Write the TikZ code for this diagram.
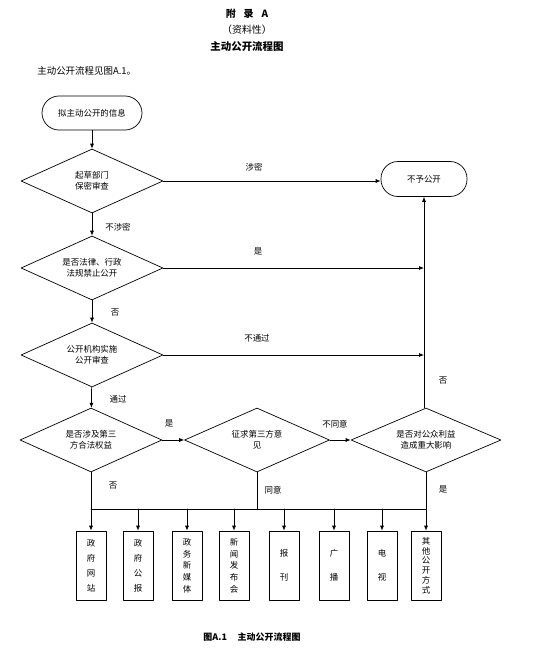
\documentclass[tikz,border=0pt]{standalone}
\usepackage{fontspec}
\setmainfont{Noto Sans CJK SC}
\usetikzlibrary{shapes.geometric,arrows.meta}

\tikzset{
  decision/.style={draw,diamond,aspect=2.2,minimum width=142bp,minimum height=64bp,
    inner sep=0pt,align=center,font=\fontsize{8.5}{11}\selectfont},
  terminal/.style={draw,rectangle,rounded corners=17bp,minimum height=34bp,
    align=center,font=\fontsize{8.5}{11}\selectfont},
  channel/.style={draw,rectangle,minimum width=30bp,minimum height=69bp,
    inner sep=0pt,align=center},
  flowlabel/.style={font=\fontsize{8.5}{10}\selectfont,inner sep=1pt},
  arr/.style={-{Latex[length=5bp,width=4bp]}},
}

\begin{document}
\begin{tikzpicture}[x=1bp,y=-1bp,line width=0.7bp,line cap=round,line join=round]
\useasboundingbox[fill=white] (0,0) rectangle (554,651);

% headings
\node (annex) at (247,14) {\fontsize{10}{12}\selectfont\bfseries 附\hspace{0.8em}录\hspace{0.8em}A};
\node (kind) at (247,30) {\fontsize{10}{12}\selectfont （资料性）};
\node (title) at (247,47) {\fontsize{10.5}{12}\selectfont\bfseries 主动公开流程图};
\node[anchor=west,inner sep=0pt] (intro) at (37,71) {\fontsize{9.5}{12}\selectfont 主动公开流程见图A.1。};

% main column
\node[terminal,minimum width=100bp] (start) at (92,113) {拟主动公开的信息};
\node[decision] (secret) at (92,181) {起草部门\\保密审查};
\node[decision] (law) at (92,268) {是否法律、行政\\法规禁止公开};
\node[decision] (review) at (92,355) {公开机构实施\\公开审查};
\node[decision] (third) at (91,440) {是否涉及第三\\方合法权益};
\node[decision,minimum width=145bp] (consult) at (257,440) {征求第三方意\\见};
\node[decision,minimum width=150bp] (public) at (426,440) {是否对公众利益\\造成重大影响};
\node[terminal,minimum width=86bp,minimum height=35bp] (deny) at (424,179) {不予公开};

% connectors
\draw[arr] (start) -- (secret);
\draw[arr] (secret) -- (law);
\draw[arr] (law) -- (review);
\draw[arr] (review) -- (third);
\draw[arr] (secret.east) -- (secret.east -| deny.west);
\draw[arr] (law.east) -- (law.east -| deny.south);
\draw[arr] (review.east) -- (review.east -| deny.south);
\draw[arr] (third.east) -- (consult.west);
\draw[arr] (consult.east) -- (public.west);
\draw[arr] (public.north -| deny.south) -- (deny.south);

% labels
\node[flowlabel] (l1) at (254,167) {涉密};
\node[flowlabel] (l2) at (118,227) {不涉密};
\node[flowlabel] (l3) at (258,251) {是};
\node[flowlabel] (l4) at (115,313) {否};
\node[flowlabel] (l5) at (257,338) {不通过};
\node[flowlabel] (l6) at (443,381) {否};
\node[flowlabel] (l7) at (118,399) {通过};
\node[flowlabel] (l8) at (169,423) {是};
\node[flowlabel] (l9) at (335,424) {不同意};
\node[flowlabel] (l10) at (113,486) {否};
\node[flowlabel] (l11) at (273,490) {同意};
\node[flowlabel] (l12) at (443,489) {是};

% publishing channels
\node[channel,font=\fontsize{8.5}{15}\selectfont] (m1) at (91,565.5) {政\\府\\网\\站};
\node[channel,font=\fontsize{8.5}{15}\selectfont] (m2) at (138,565.5) {政\\府\\公\\报};
\node[channel,font=\fontsize{8.5}{11.7}\selectfont] (m3) at (187,565.5) {政\\务\\新\\媒\\体};
\node[channel,font=\fontsize{8.5}{11.7}\selectfont] (m4) at (234,565.5) {新\\闻\\发\\布\\会};
\node[channel,font=\fontsize{8.5}{24}\selectfont] (m5) at (284,565.5) {报\\刊};
\node[channel,font=\fontsize{8.5}{24}\selectfont] (m6) at (334,565.5) {广\\播};
\node[channel,font=\fontsize{8.5}{24}\selectfont] (m7) at (382,565.5) {电\\视};
\node[channel,font=\fontsize{8.5}{9.8}\selectfont] (m8) at (426,565.5) {其\\他\\公\\开\\方\\式};

% bus to channels
\coordinate (bus) at (0,509);
\draw (third.south) -- (third.south |- bus);
\draw (consult.south) -- (consult.south |- bus);
\draw (public.south) -- (public.south |- bus);
\draw (third.south |- bus) -- (public.south |- bus);
\draw[arr] (m1.north |- bus) -- (m1.north);
\draw[arr] (m2.north |- bus) -- (m2.north);
\draw[arr] (m3.north |- bus) -- (m3.north);
\draw[arr] (m4.north |- bus) -- (m4.north);
\draw[arr] (m5.north |- bus) -- (m5.north);
\draw[arr] (m6.north |- bus) -- (m6.north);
\draw[arr] (m7.north |- bus) -- (m7.north);
\draw[arr] (m8.north |- bus) -- (m8.north);

% caption
\node (caption) at (252,637) {\fontsize{9}{12}\selectfont\bfseries 图A.1\hspace{1.2em}主动公开流程图};

\end{tikzpicture}
\end{document}
